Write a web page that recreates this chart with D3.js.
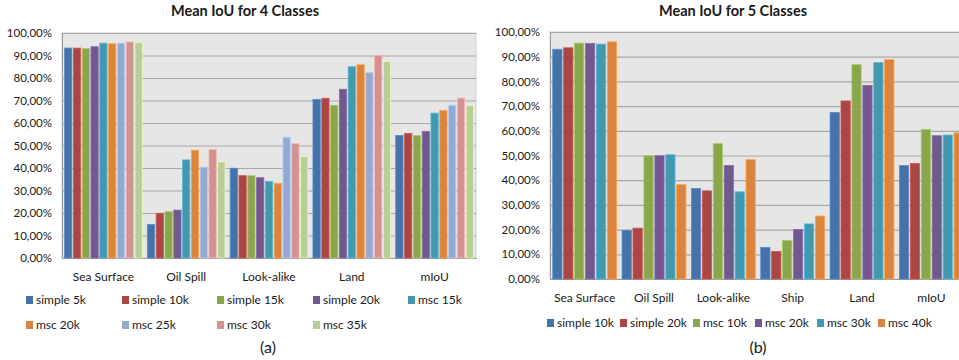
<!DOCTYPE html>
<html><head><meta charset="utf-8">
<script src="https://cdn.jsdelivr.net/npm/d3@7"></script>
<style>body{margin:0;background:#fff;overflow:hidden}svg{display:block}text{font-family:Lato,"Open Sans",sans-serif;fill:#1a1a1a}</style>
</head><body>
<svg id="c" width="959" height="360"></svg>
<script>
// ---- Data ----
const catsA = ["Sea Surface","Oil Spill","Look-alike","Land","mIoU"];
const seriesA = ["simple 5k","simple 10k","simple 15k","simple 20k","msc 15k","msc 20k","msc 25k","msc 30k","msc 35k"];
const valuesA = [ // per series, per category (%)
  [93.3, 14.9, 39.9, 70.5, 54.5],
  [93.3, 19.9, 36.6, 71.0, 55.3],
  [93.1, 20.6, 36.6, 67.9, 54.4],
  [93.9, 21.3, 35.7, 75.0, 56.3],
  [95.5, 43.6, 34.1, 85.0, 64.4],
  [95.2, 47.9, 33.2, 85.9, 65.6],
  [95.5, 40.4, 53.7, 82.5, 67.9],
  [96.0, 48.2, 50.9, 90.1, 71.1],
  [95.8, 42.7, 45.0, 87.4, 67.9]
];
const catsB = ["Sea Surface","Oil Spill","Look-alike","Ship","Land","mIoU"];
const seriesB = ["simple 10k","simple 20k","msc 10k","msc 20k","msc 30k","msc 40k"];
const valuesB = [
  [93.0, 19.7, 36.6, 12.8, 67.4, 45.9],
  [93.6, 20.6, 35.7, 11.2, 72.1, 46.8],
  [95.5, 49.9, 54.8, 15.6, 86.8, 60.6],
  [95.4, 49.9, 46.0, 20.1, 78.4, 58.0],
  [95.1, 50.3, 35.3, 22.3, 87.6, 58.3],
  [96.0, 38.2, 48.3, 25.5, 88.8, 59.2]
];
const yTicks = [0,10,20,30,40,50,60,70,80,90,100];
const titleA = "Mean IoU for 4 Classes", titleB = "Mean IoU for 5 Classes";
const colorsA = ["#4572A7","#AA4643","#89A54E","#71588F","#4198AF","#DB843D","#93A9CF","#D19392","#B9CD96"];
const colorsB = ["#4572A7","#AA4643","#89A54E","#71588F","#4198AF","#DB843D"];

const loc = d3.formatLocale({decimal:",",thousands:".",grouping:[3],currency:["",""]});
const fmt = v => loc.format(".2f")(v) + "%";

const svg = d3.select("#c");

function chart(cfg){
  const g = svg.append("g");
  const x0 = d3.scaleBand().domain(cfg.cats).range([cfg.left, cfg.right]);
  const x1 = d3.scaleBand().domain(cfg.series).range([0, x0.bandwidth()]).paddingInner(cfg.pi).paddingOuter(cfg.po);
  const y = d3.scaleLinear().domain([0,100]).range([cfg.bottom, cfg.top]);
  // plot area
  g.append("rect").attr("x",cfg.left).attr("y",cfg.top).attr("width",cfg.right-cfg.left).attr("height",cfg.bottom-cfg.top)
    .attr("fill","#E6E6E6").attr("stroke","#CFCFCF");
  // gridlines
  g.selectAll(".gl").data(yTicks).join("line")
    .attr("x1",cfg.left).attr("x2",cfg.right).attr("y1",d=>y(d)+0.5).attr("y2",d=>y(d)+0.5)
    .attr("stroke","#A8A8A8").attr("stroke-width",1.2);
  // axes
  const ya = d3.axisLeft(y).tickValues(yTicks).tickFormat(fmt).tickSize(0).tickPadding(10);
  const ag = g.append("g").attr("transform",`translate(${cfg.left},0)`).call(ya);
  ag.select(".domain").attr("stroke","#9A9A9A");
  ag.selectAll("text").style("font-size","11.5px").style("font-family","Lato,sans-serif").attr("fill","#1a1a1a");
  const xa = d3.axisBottom(x0).tickSize(0).tickPadding(cfg.catPad);
  const xg = g.append("g").attr("transform",`translate(0,${cfg.bottom})`).call(xa);
  xg.select(".domain").attr("stroke","#9A9A9A");
  xg.selectAll("text").style("font-size","12px").style("font-family","Lato,sans-serif").attr("fill","#1a1a1a");
  // bars
  cfg.series.forEach((s,i)=>{
    g.append("g").selectAll("rect").data(cfg.values[i]).join("rect")
      .attr("x",(d,j)=>x0(cfg.cats[j])+x1(s)).attr("width",x1.bandwidth())
      .attr("y",d=>y(d)).attr("height",d=>cfg.bottom-y(d))
      .attr("fill",cfg.colors[i]).attr("stroke",d3.color(cfg.colors[i]).brighter(0.6)).attr("stroke-width",0.8);
  });
  // title
  g.append("text").attr("x",cfg.titleX).attr("y",16).attr("text-anchor","middle")
    .style("font-size","14.5px").style("font-weight","bold").text(cfg.title);
  // legend
  cfg.series.forEach((s,i)=>{
    const p = cfg.legendPos[i];
    g.append("rect").attr("x",p[0]).attr("y",p[1]-4).attr("width",7).attr("height",8).attr("fill",cfg.colors[i]);
    g.append("text").attr("x",p[0]+10).attr("y",p[1]).attr("dy","0.35em").style("font-size","12px").text(s);
  });
  g.append("text").attr("x",cfg.capX).attr("y",347).attr("dy","0.35em").attr("text-anchor","middle")
    .style("font-size","16px").text(cfg.caption);
}

chart({cats:catsA, series:seriesA, values:valuesA, colors:colorsA, left:62, right:476, top:33, bottom:258,
  pi:0.17, po:0.29, catPad:14, title:titleA, titleX:245, caption:"(a)", capX:268,
  legendPos:[[26,300],[122,300],[217,300],[313,300],[408,300],[26,325],[122,325],[217,325],[313,325]]});
chart({cats:catsB, series:seriesB, values:valuesB, colors:colorsB, left:550, right:966, top:32, bottom:279,
  pi:0.15, po:0.25, catPad:14, title:titleB, titleX:733, caption:"(b)", capX:758,
  legendPos:[[547,323],[620,323],[693,323],[755,323],[817,323],[878,323]]});
</script>
</body></html>
